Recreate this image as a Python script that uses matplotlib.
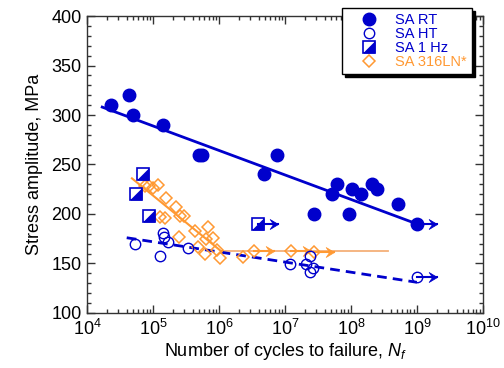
import numpy as np
import matplotlib
matplotlib.use("Agg")
import matplotlib.pyplot as plt
from matplotlib.ticker import LogLocator, MultipleLocator, NullFormatter
from matplotlib.legend_handler import HandlerTuple

plt.rcParams['font.family'] = ['Liberation Sans', 'DejaVu Sans']
plt.rcParams['mathtext.fontset'] = 'custom'
plt.rcParams['mathtext.rm'] = 'Liberation Sans'
plt.rcParams['mathtext.it'] = 'Liberation Sans:italic'

# ---------------- data ----------------
rt_N = [2.3e4, 4.4e4, 5.0e4, 1.4e5, 5.0e5, 5.6e5, 4.8e6, 7.6e6, 2.8e7, 5.2e7, 6.2e7,
        9.4e7, 1.05e8, 1.4e8, 2.1e8, 2.5e8, 5.1e8]
rt_S = [310, 320, 300, 290, 260, 260, 240, 260, 200, 220, 230,
        200, 225, 220, 230, 225, 210]
rt_run_N = [1.0e9]
rt_run_S = [190]
rt_fit_N = [1.7e4, 1.0e9]
rt_fit_S = [308, 190]

ht_N = [5.3e4, 1.4e5, 1.45e5, 1.7e5, 1.3e5, 3.4e5, 1.2e7, 2.1e7, 2.4e7, 2.7e7, 2.4e7]
ht_S = [170, 181, 177, 172, 158, 166, 149, 149, 158, 145, 141]
ht_run_N = [1.0e9]
ht_run_S = [136]
ht_fit_N = [4.0e4, 1.0e9]
ht_fit_S = [176, 131]

hz_N = [7.1e4, 5.5e4, 8.7e4]
hz_S = [240, 220, 198]
hz_run_N = [3.9e6]
hz_run_S = [190]

ln_N = [7.6e4, 8.7e4, 1.0e5, 1.2e5, 1.6e5, 2.2e5, 2.6e5, 3.0e5, 1.3e5, 1.5e5,
        2.5e5, 4.3e5, 4.8e5, 6.3e5, 8.1e5, 6.9e5, 6.2e5, 9.3e5, 1.05e6, 2.3e6]
ln_S = [228, 228, 226, 229, 216, 207, 198, 198, 197, 196,
        177, 183, 167, 175, 176, 187, 160, 164, 156, 157]
ln_run_N = [3.4e6, 1.25e7, 2.8e7]
ln_run_S = [163, 163, 162]
ln_fit_N = [4.8e4, 1.1e6]
ln_fit_S = [236, 162]
ln_end_N = [1.1e6, 3.6e8]
ln_end_S = [163, 163]

labels = ['SA RT', 'SA HT', 'SA 1 Hz', 'SA 316LN*']

BLUE = '#0000cc'
ORANGE = '#ff9933'
ARROW_FAC = 2.0

fig = plt.figure(figsize=(5.04, 3.68), dpi=100)
ax = fig.add_axes([0.1726, 0.1495, 0.958 - 0.1726, 0.9565 - 0.1495])

stealth = [(0, 0), (-1, 0.6), (-0.6, 0), (-1, -0.6), (0, 0)]
tri = [(-1, -1), (1, -1), (1, 1), (-1, -1)]


def runout(N, S, color, z=6):
    for n, s in zip(N, S):
        ax.plot([n, n * ARROW_FAC], [s, s], color=color, lw=1.5, zorder=z)
        ax.plot([n * ARROW_FAC], [s], marker=stealth, ms=12, color=color,
                mec=color, mew=0.5, ls='none', zorder=z)


# fit lines
ax.plot(rt_fit_N, rt_fit_S, color=BLUE, lw=2, zorder=3)
ax.plot(ht_fit_N, ht_fit_S, color=BLUE, lw=2, ls=(0, (3.5, 2.2)), zorder=3)
ax.plot(ln_fit_N, ln_fit_S, color=ORANGE, lw=1.5, zorder=3)
ax.plot(ln_end_N, ln_end_S, color='#f5b078', lw=1.3, zorder=2)

# SA RT
h_rt, = ax.plot(rt_N + rt_run_N, rt_S + rt_run_S, 'o', ms=9, color=BLUE, mec=BLUE,
                ls='none', zorder=5)
runout(rt_run_N, rt_run_S, BLUE)

# SA HT
h_ht, = ax.plot(ht_N + ht_run_N, ht_S + ht_run_S, 'o', ms=7.5, mfc='none', mec=BLUE,
                mew=1.0, ls='none', zorder=5)
runout(ht_run_N, ht_run_S, BLUE)

# SA 1 Hz
h_sq, = ax.plot(hz_N + hz_run_N, hz_S + hz_run_S, 's', ms=8, mfc='white', mec=BLUE,
                mew=1.2, ls='none', zorder=6)
h_tr, = ax.plot(hz_N + hz_run_N, hz_S + hz_run_S, marker=tri, ms=8, mfc=BLUE,
                mec=BLUE, mew=0.6, ls='none', zorder=7)
runout(hz_run_N, hz_run_S, BLUE)

# SA 316LN*
h_ln, = ax.plot(ln_N + ln_run_N, ln_S + ln_run_S, 'D', ms=6.0, mfc='none',
                mec=ORANGE, mew=1.1, ls='none', zorder=4)
runout(ln_run_N, ln_run_S, ORANGE, z=4)

ax.set_xscale('log')
ax.set_xlim(1e4, 1e10)
ax.set_ylim(100, 400)
ax.yaxis.set_major_locator(MultipleLocator(50))
ax.yaxis.set_minor_locator(MultipleLocator(10))
ax.xaxis.set_major_locator(LogLocator(base=10, numticks=20))
ax.xaxis.set_minor_locator(LogLocator(base=10, subs=np.arange(2, 10), numticks=20))
ax.xaxis.set_minor_formatter(NullFormatter())

ax.tick_params(which='both', direction='in', top=True, right=True, color='#333333',
               labelsize=13, pad=4)
ax.tick_params(which='major', length=6, width=1)
ax.tick_params(which='minor', length=3, width=1)
for sp in ax.spines.values():
    sp.set_color('#333333')
    sp.set_linewidth(1)

ax.set_xlabel('Number of cycles to failure, $\\it{N_f}$', fontsize=13, labelpad=2)
ax.set_ylabel('Stress amplitude, MPa', fontsize=13, labelpad=6)

leg = fig.legend([h_rt, h_ht, (h_sq, h_tr), h_ln], labels,
                 handler_map={tuple: HandlerTuple(ndivide=1)},
                 loc='upper left', bbox_to_anchor=(342 / 504, 1 - 8 / 368),
                 fontsize=10.5,
                 labelcolor=[BLUE, BLUE, BLUE, ORANGE],
                 frameon=True, fancybox=False, shadow={'color': 'black', 'alpha': 1},
                 framealpha=1, edgecolor='black', borderpad=0.35, labelspacing=0.0,
                 handlelength=3.0, handletextpad=0.3, markerscale=1.0,
                 borderaxespad=0)
leg.get_frame().set_linewidth(1)
leg.set_zorder(10)

fig.savefig('out.png', dpi=100)
